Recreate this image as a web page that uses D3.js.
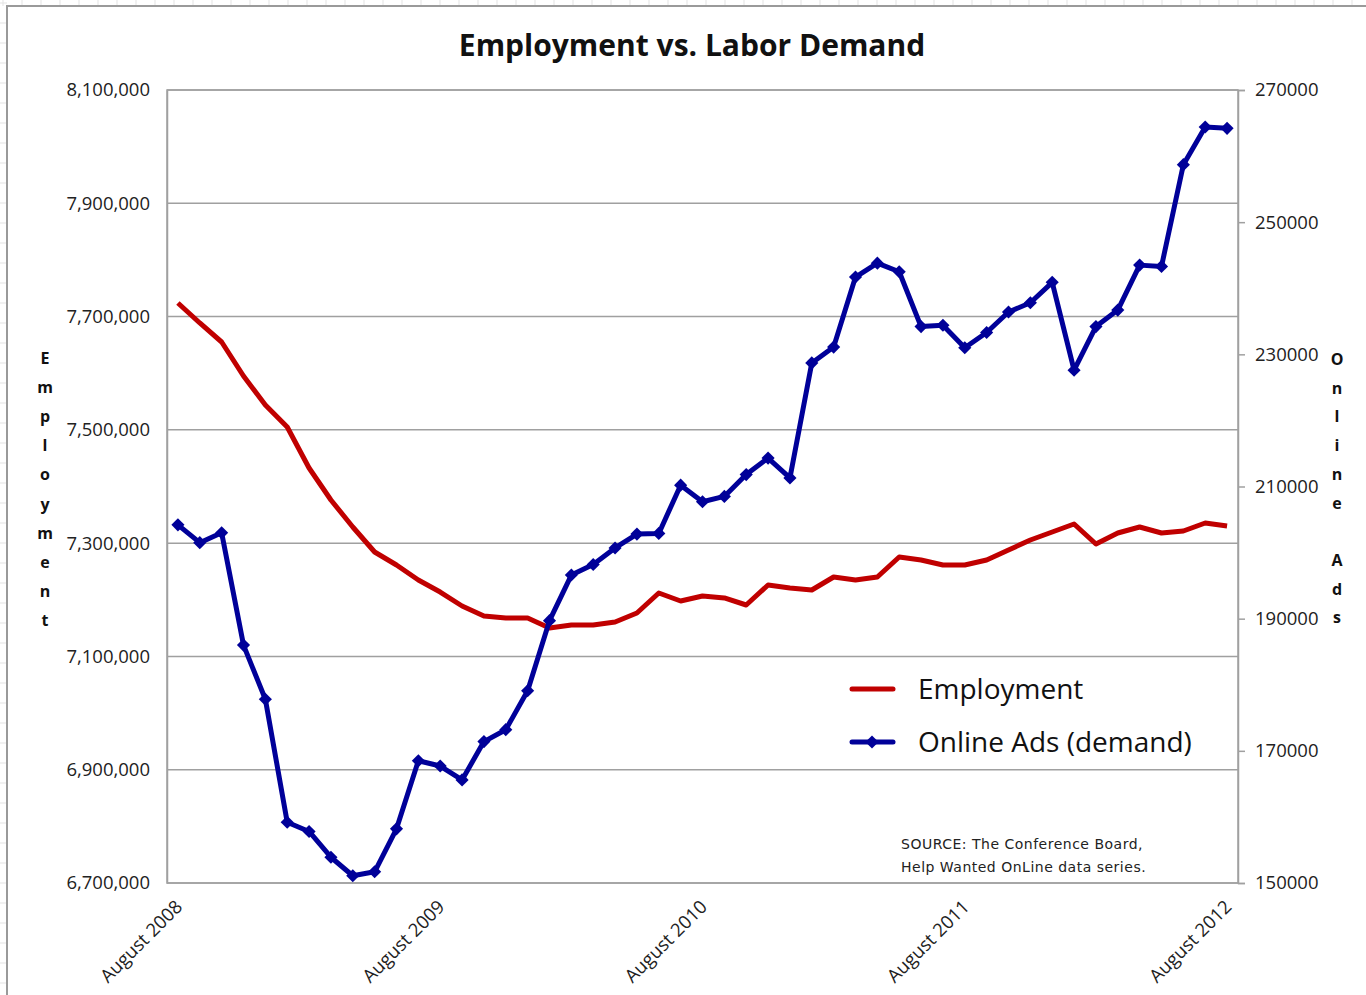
<!DOCTYPE html>
<html><head><meta charset="utf-8">
<script src="https://cdn.jsdelivr.net/npm/d3@7"></script>
<style>
html,body{margin:0;padding:0;background:#fff;}
svg{display:block;}
</style></head>
<body>
<svg id="chart" width="1366" height="995"></svg>
<script>
const months = ["Aug 2008","Sep 2008","Oct 2008","Nov 2008","Dec 2008","Jan 2009","Feb 2009","Mar 2009","Apr 2009","May 2009","Jun 2009","Jul 2009",
"Aug 2009","Sep 2009","Oct 2009","Nov 2009","Dec 2009","Jan 2010","Feb 2010","Mar 2010","Apr 2010","May 2010","Jun 2010","Jul 2010",
"Aug 2010","Sep 2010","Oct 2010","Nov 2010","Dec 2010","Jan 2011","Feb 2011","Mar 2011","Apr 2011","May 2011","Jun 2011","Jul 2011",
"Aug 2011","Sep 2011","Oct 2011","Nov 2011","Dec 2011","Jan 2012","Feb 2012","Mar 2012","Apr 2012","May 2012","Jun 2012","Jul 2012","Aug 2012"];

const employment = [7724000,7688700,7655100,7595100,7543900,7505000,7432700,7376200,7328500,7284400,7261400,7234900,
7213700,7189000,7171400,7167800,7167800,7150200,7155500,7155500,7160800,7176700,7212000,7197900,
7206700,7203200,7190800,7226100,7220800,7217300,7240200,7234900,7240200,7275500,7270200,7261400,
7261400,7270200,7287900,7305500,7319700,7333800,7298500,7317900,7328500,7317900,7321400,7335600,7330300];

const onlineAds = [204200,201500,203000,186000,177800,159200,157800,153900,151100,151700,158200,168500,
167700,165600,171400,173200,179100,189700,196600,198200,200700,202800,202900,210200,
207700,208500,211800,214300,211300,228700,231100,241700,243800,242500,234200,234400,
231000,233300,236400,237800,240900,227600,234200,236700,243500,243300,258700,264400,264200];

const xTickLabels = {"Aug 2008":"August 2008","Aug 2009":"August 2009","Aug 2010":"August 2010","Aug 2011":"August 2011","Aug 2012":"August 2012"};
const leftTicks = [6700000,6900000,7100000,7300000,7500000,7700000,7900000,8100000];
const rightTicks = [150000,170000,190000,210000,230000,250000,270000];
const seriesNames = ["Employment","Online Ads (demand)"];
const title = "Employment vs. Labor Demand";
const leftTitle = "Employment";
const rightTitle = "Online Ads";
const sourceLines = ["SOURCE: The Conference Board,","Help Wanted OnLine data series."];

const RED = "#C00000", BLUE = "#000099", GRID = "#a0a0a0";
const svg = d3.select("#chart");
const W = 1366, H = 995;
const plot = {l:167, r:1238, t:90, b:883};

// spreadsheet background grid outside chart
const bg = svg.append("g");
for (let x = 3; x < W; x += 19) bg.append("line").attr("x1",x).attr("x2",x).attr("y1",0).attr("y2",6).attr("stroke","#e3e3e3");
for (let y = 3; y < H; y += 20) bg.append("line").attr("x1",0).attr("x2",7).attr("y1",y).attr("y2",y).attr("stroke","#e3e3e3");
// chart border
svg.append("rect").attr("x",7).attr("y",6).attr("width",W+10).attr("height",H+10).attr("fill","#fff").attr("stroke","#9a9a9a").attr("stroke-width",2);

const x = d3.scalePoint().domain(months).range([plot.l, plot.r]).padding(0.5);
const yL = d3.scaleLinear().domain([6700000,8100000]).range([plot.b, plot.t]);
const yR = d3.scaleLinear().domain([150000,270000]).range([plot.b, plot.t]);

// gridlines
svg.append("g").selectAll("line").data(leftTicks).join("line")
  .attr("x1",plot.l).attr("x2",plot.r).attr("y1",d=>yL(d)).attr("y2",d=>yL(d))
  .attr("stroke",GRID).attr("stroke-width",1.5);
// plot border
svg.append("rect").attr("x",plot.l).attr("y",plot.t).attr("width",plot.r-plot.l).attr("height",plot.b-plot.t)
  .attr("fill","none").attr("stroke",GRID).attr("stroke-width",1.5);

// left axis
const axL = svg.append("g").attr("transform",`translate(${plot.l},0)`)
  .call(d3.axisLeft(yL).tickValues(leftTicks).tickSize(0).tickPadding(17).tickFormat(d3.format(",")));
axL.select(".domain").attr("stroke",GRID).attr("stroke-width",1.5);
axL.selectAll("text").attr("font-family","'Open Sans', sans-serif").attr("font-size",18.5).attr("fill","#222");

// right axis
const axR = svg.append("g").attr("transform",`translate(${plot.r},0)`)
  .call(d3.axisRight(yR).tickValues(rightTicks).tickSize(7).tickPadding(10).tickFormat(d3.format("d")));
axR.select(".domain").attr("stroke",GRID).attr("stroke-width",1.5);
axR.selectAll("line").attr("stroke",GRID).attr("stroke-width",1.5);
axR.selectAll("text").attr("font-family","'Open Sans', sans-serif").attr("font-size",18.5).attr("fill","#222");

// x axis labels
const axX = svg.append("g").attr("transform",`translate(0,${plot.b})`)
  .call(d3.axisBottom(x).tickValues(Object.keys(xTickLabels)).tickSize(0).tickFormat(d=>xTickLabels[d]));
axX.select(".domain").remove();
axX.selectAll("text")
  .attr("font-family","'Open Sans', sans-serif").attr("font-size",18.5).attr("fill","#222")
  .attr("text-anchor","end").attr("dy",0)
  .attr("transform","translate(3,23) rotate(-45)");

// lines
const lineL = d3.line().x((d,i)=>x(months[i])).y(d=>yL(d));
const lineR = d3.line().x((d,i)=>x(months[i])).y(d=>yR(d));
svg.append("path").datum(employment).attr("d",lineL).attr("fill","none").attr("stroke",RED).attr("stroke-width",5).attr("stroke-linejoin","round");
svg.append("path").datum(onlineAds).attr("d",lineR).attr("fill","none").attr("stroke",BLUE).attr("stroke-width",5).attr("stroke-linejoin","round");
const diamond = d3.symbol().type(d3.symbolDiamond2).size(110);
svg.append("g").selectAll("path").data(onlineAds).join("path")
  .attr("d",diamond).attr("transform",(d,i)=>`translate(${x(months[i])},${yR(d)})`).attr("fill",BLUE);

// title
svg.append("text").attr("x",692).attr("y",56).attr("text-anchor","middle")
  .attr("font-family","'Open Sans', sans-serif").attr("font-weight","bold").attr("font-size",30).attr("fill","#111").text(title);

// vertical stacked titles
function stacked(str, cx, y0, step) {
  const g = svg.append("g");
  str.split("").forEach((ch,i)=>{
    g.append("text").attr("x",cx).attr("y",y0+i*step).attr("text-anchor","middle").attr("dominant-baseline","central")
      .attr("font-family","'Open Sans', sans-serif").attr("font-weight","bold").attr("font-size",16).attr("fill","#111").text(ch);
  });
}
stacked(leftTitle, 45, 358, 29.1);
stacked(rightTitle, 1337, 359, 28.7);

// legend
const lg = svg.append("g");
lg.append("line").attr("x1",852).attr("x2",893).attr("y1",689).attr("y2",689).attr("stroke",RED).attr("stroke-width",5).attr("stroke-linecap","round");
lg.append("line").attr("x1",852).attr("x2",893).attr("y1",742).attr("y2",742).attr("stroke",BLUE).attr("stroke-width",5).attr("stroke-linecap","round");
lg.append("path").attr("d",diamond).attr("transform","translate(872,742)").attr("fill",BLUE);
lg.selectAll("text").data(seriesNames).join("text")
  .attr("x",918).attr("y",(d,i)=>699+i*53)
  .attr("font-family","'Open Sans', sans-serif").attr("font-size",28).attr("fill","#111").text(d=>d);

// source
svg.append("g").selectAll("text").data(sourceLines).join("text")
  .attr("x",901).attr("y",(d,i)=>849+i*23)
  .attr("font-family","'DejaVu Sans', sans-serif").attr("font-size",14).attr("letter-spacing",0.5).attr("fill","#222").text(d=>d);
</script>
</body></html>
